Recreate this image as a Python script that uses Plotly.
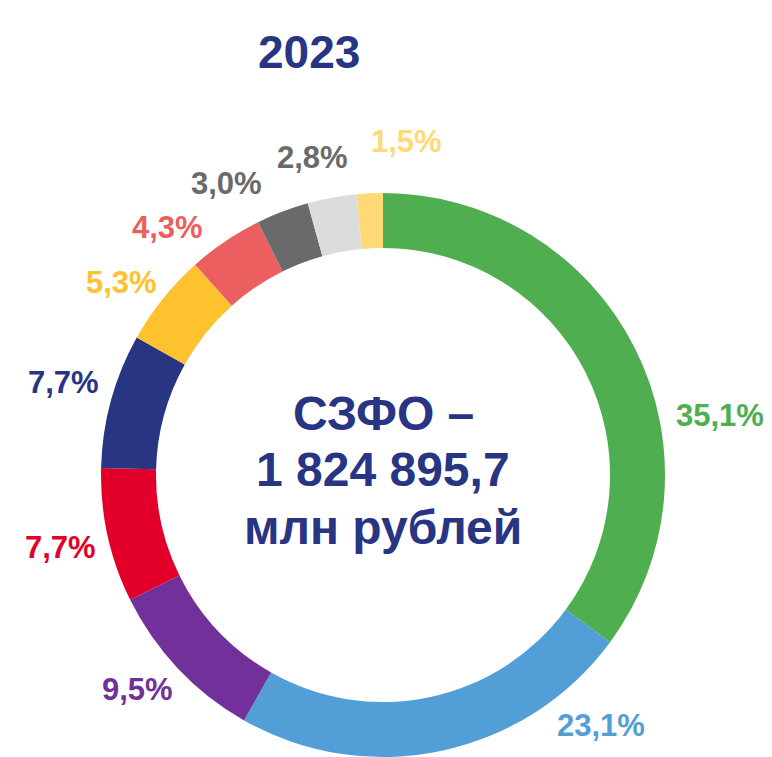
import plotly.graph_objects as go

# ---- data ----
categories = ["s1", "s2", "s3", "s4", "s5", "s6", "s7", "s8", "s9", "s10"]
shares = [35.1, 23.1, 9.5, 7.7, 7.7, 5.3, 4.3, 3.0, 2.8, 1.5]
title_text = "2023"
center_lines = ["СЗФО –", "1 824 895,7", "млн рублей"]

# ---- styles ----
slice_colors = ["#4FAE4F", "#529FD7", "#72309B", "#E2002B", "#283583",
                "#FEC22E", "#EB5F60", "#6A6A6A", "#DCDCDC", "#FDDA75"]
label_colors = ["#4FAE4F", "#529FD7", "#72309B", "#E2002B", "#283583",
                "#FEC22E", "#EB5F60", "#6A6A6A", "#6A6A6A", "#FDDA75"]
# label centre positions in screen pixels (x from left, y from top)
label_pos = [(720, 415), (601, 725), (137, 689), (60, 547), (64, 382),
             (121, 283), (167, 228), (226, 184), (312, 158), (407, 141)]

OFF = 8                    # page body margin
W, H = 772 - OFF, 757 - OFF
NAVY = "#283583"
FONT = "Liberation Sans, Arial, sans-serif"

cx, cy, R = 383 - OFF, 475 - OFF, 282


def px(x):
    return (x - OFF) / W


def py(y):
    return 1 - (y - OFF) / H


fig = go.Figure(go.Pie(
    labels=categories,
    values=shares,
    sort=False,
    direction="clockwise",
    rotation=0,
    hole=0.805,
    marker=dict(colors=slice_colors, line=dict(width=0)),
    textinfo="none",
    hoverinfo="skip",
    showlegend=False,
    domain=dict(x=[(cx - R) / W, (cx + R) / W],
                y=[max(0, (H - cy - R) / H), min(1, (H - cy + R) / H)]),
))

annotations = []
for v, c, (lx, ly) in zip(shares, label_colors, label_pos):
    annotations.append(dict(
        x=px(lx), y=py(ly), xref="paper", yref="paper",
        xanchor="center", yanchor="middle", showarrow=False,
        text=f"{v:.1f}".replace(".", ",") + "%",
        font=dict(family=FONT, size=31, color=c, weight="bold"),
    ))

center_y = [413, 470, 527]
for line, ly in zip(center_lines, center_y):
    annotations.append(dict(
        x=px(383), y=py(ly), xref="paper", yref="paper",
        xanchor="center", yanchor="middle", showarrow=False,
        text=line,
        font=dict(family=FONT, size=48, color=NAVY, weight="bold"),
    ))

annotations.append(dict(
    x=px(309), y=py(52), xref="paper", yref="paper",
    xanchor="center", yanchor="middle", showarrow=False,
    text=title_text,
    font=dict(family=FONT, size=46, color=NAVY, weight="bold"),
))

fig.update_layout(
    width=W, height=H,
    margin=dict(l=0, r=0, t=0, b=0),
    paper_bgcolor="white", plot_bgcolor="white",
    annotations=annotations,
)

fig.write_html("out.html")
